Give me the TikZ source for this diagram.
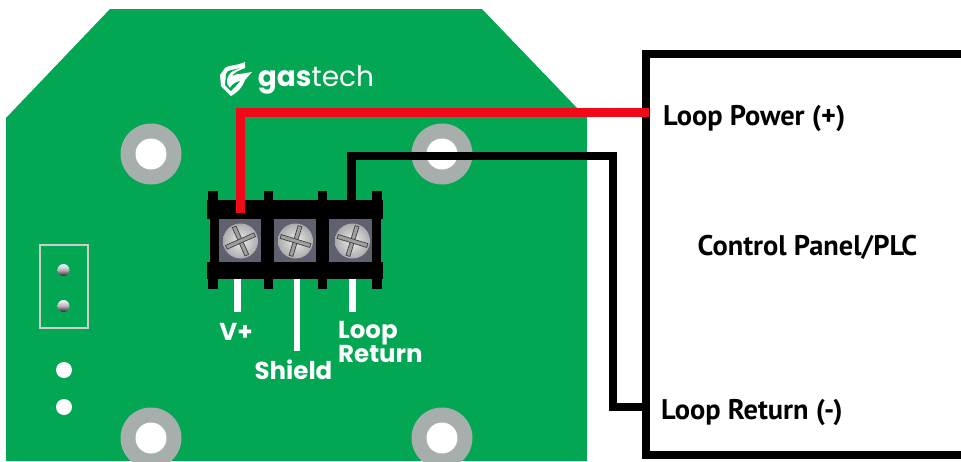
\documentclass[tikz,border=0pt]{standalone}
\usepackage{fontspec}
\setmainfont{PT Sans}
\newfontfamily\boardfont{Poppins}
\usepackage{xcolor}
\definecolor{pcbgreen}{RGB}{3,166,82}
\definecolor{ringgray}{RGB}{166,175,172}
\definecolor{wirered}{RGB}{240,10,25}
\definecolor{screwbase}{RGB}{95,96,112}
\tikzstyle{wire} = [line width=8.8pt,line join=miter]
\tikzstyle{leadline} = [white,line width=6.5pt]
\tikzstyle{pcblabel} = [white,font=\boardfont\fontsize{24.5}{19}\selectfont\bfseries,inner sep=0pt]
\tikzstyle{paneltext} = [font=\fontsize{28.4}{30}\selectfont\bfseries,inner sep=0pt]
\tikzstyle{screwslot} = [fill=gray!75,draw=gray!50!black,line width=0.7pt]
\begin{document}
\begin{tikzpicture}[x=1pt,y=-1pt]
\useasboundingbox (0,0) rectangle (961,461);
\begin{scope}
\clip (0,0) rectangle (961,461);
% Board
\fill[pcbgreen] (6,118) -- (110,9) -- (482,9) -- (577,108) -- (587,117) -- (587,461) -- (6,461) -- cycle;
% Mounting holes
\foreach \hx/\hy in {151/154,442/154,151/438,442/438}{
  \fill[ringgray] (\hx,\hy) circle (30.5);
  \fill[white] (\hx,\hy) circle (15.5);
}
% Jumper and dots
\draw[gray!40,line width=2pt] (40,244.5) rectangle (88,328);
\foreach \py in {270,306}{
  \shade[top color=white,bottom color=gray!30!black,middle color=gray!60] (63.5,\py) circle (6);
}
\fill[white] (64,370) circle (8);
\fill[white] (64,407) circle (8);
% Logo
\fill[white] (245,62) .. controls (236,66) and (228,65) .. (225,68) -- (220,75) -- (221,86) -- (231,96) .. controls (238,92) and (242,88) .. (245,80) -- (252,72) -- (240,74) .. controls (236,74) and (233,75) .. (231,78) .. controls (233,72) and (240,70) .. (245,68) -- cycle;
\fill[pcbgreen] (226,74) -- (228,71) -- (240,68) -- (233,71) .. controls (229,73) and (226,78) .. (227,84) -- (230,88) .. controls (232,84) and (236,82) .. (240,81) .. controls (237,85) and (234,88) .. (231,91) -- (225,85) -- cycle;
\node[white,inner sep=0pt,font=\boardfont\fontsize{28}{30}\selectfont] (logotext) at (316,80) {\textbf{gas}tech};
% Wires under the terminal block
\draw[leadline] (237.5,275) -- (237.5,312);
\draw[leadline] (297,275) -- (297,351);
\draw[leadline] (352.5,275) -- (352.5,312);
% Terminal block
\fill[black] (207,200) rectangle (383,219);
\fill[black] (207,262) rectangle (383,279);
\fill[black] (210,200) rectangle (381,279);
\foreach \tx/\tw in {208/10,264/8.5,318/9,372/10}{
  \fill[black] (\tx,191) rectangle ++(\tw,10);
  \fill[black] (\tx,278) rectangle ++(\tw,11);
}
\foreach \sx/\sw/\sc/\sa in {219/42/240.5/24,274/42/295.5/-17,329/43/352.5/-17}{
  \fill[screwbase] (\sx,219) rectangle ++(\sw,43);
  \shade[inner color=gray!15,outer color=gray!65] (\sc,241) circle (17.5);
  \begin{scope}[shift={(\sc,241)},rotate=\sa]
    \filldraw[screwslot] (-2,-15.5) rectangle (2,15.5);
    \filldraw[screwslot] (-15.5,-2) rectangle (15.5,2);
  \end{scope}
}
% Connections
\coordinate (vplusscrew) at (240.5,213);
\coordinate (returnscrew) at (351.5,200);
\coordinate (powerin) at (649,112.5);
\coordinate (returnbend) at (613,156);
\coordinate (returnin) at (646,407);
\coordinate (paneltop) at (965,54);
\coordinate (panelbot) at (965,455);
\draw[black,line width=8pt] (paneltop) -- (645.5,54) -- (645.5,455) -- (panelbot);
\draw[wire,black] (returnscrew) |- (returnbend) |- (returnin);
\draw[wire,wirered] (vplusscrew) |- (powerin);
% Board labels
\node[pcblabel] (vplus) at (236,331.5) {V+};
\node[pcblabel] (shield) at (293.5,370) {Shield};
\node[pcblabel,anchor=west,align=left] (loopreturn) at (338,342) {Loop\\Return};
% Panel labels
\node[paneltext,anchor=west] (loopplus) at (663,119) {Loop Power (+)};
\node[paneltext] (panel) at (807.5,247) {Control Panel/PLC};
\node[paneltext,anchor=west] (loopminus) at (661,413) {Loop Return (-)};
\end{scope}
\end{tikzpicture}
\end{document}
